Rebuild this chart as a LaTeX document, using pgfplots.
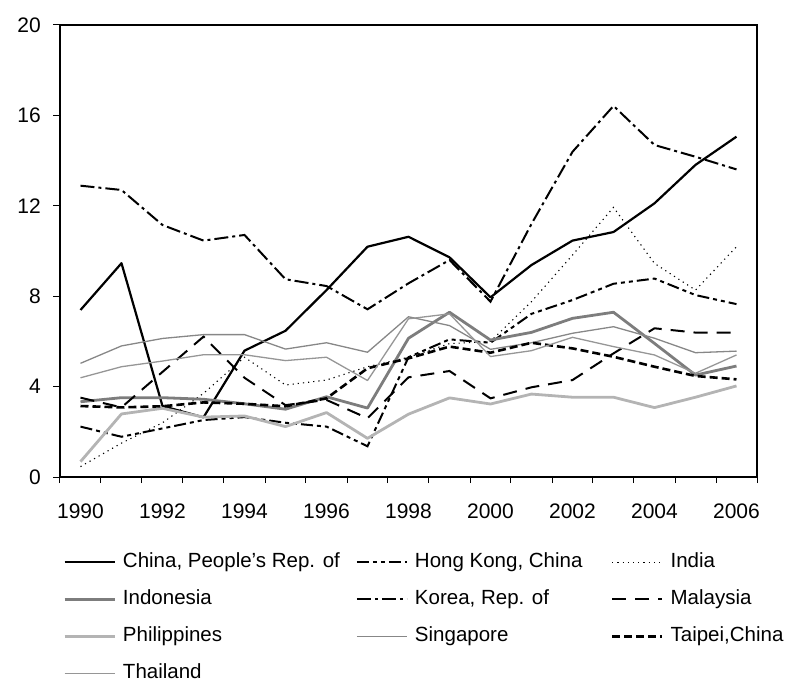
\documentclass[border=0pt]{standalone}
\usepackage{fontspec}
\setmainfont{Liberation Sans}
\usepackage{pgfplots}
\pgfplotsset{compat=1.18}
\definecolor{indo}{RGB}{125,125,125}
\definecolor{phil}{RGB}{180,180,180}
\definecolor{sing}{RGB}{135,135,135}
\definecolor{thai}{RGB}{150,150,150}
\begin{document}
\begin{tikzpicture}
\useasboundingbox (-60pt,-206pt) rectangle (730pt,477pt);
\begin{axis}[
  at={(0pt,0pt)}, anchor=south west,
  width=697pt, height=452pt, scale only axis,
  xmin=1989.5, xmax=2006.5, ymin=0, ymax=20,
  xtick={1990,1992,...,2006},
  minor xtick={1989.5,1990.5,...,2006.5},
  ytick={0,4,...,20},
  xtick pos=bottom, ytick pos=left,
  tick align=outside,
  major tick length=7pt, minor tick length=6pt,
  major x tick style={draw=none},
  minor tick style={black, line width=1pt},
  ytick style={black, line width=1pt},
  axis line style={line width=1.2pt},
  /pgf/number format/assume math mode=true,
  /pgf/number format/1000 sep={},
  tick label style={font=\fontsize{21}{24}\selectfont, inner sep=0pt},
  xticklabel style={yshift=-20pt},
  yticklabel style={xshift=-12pt},
  legend columns=3,
  legend cell align=left,
  legend image code/.code={\draw[#1] (0pt,0pt) -- (50pt,0pt);},
  legend style={at={(0.0043,-0.166)}, anchor=north west, draw=none,
    inner sep=0pt, font=\fontsize{20.5}{24}\selectfont, row sep=17pt,
    nodes={inner sep=0pt, text height=15pt, text depth=5pt},
    /tikz/every odd column/.append style={column sep=7pt}},
]
% China
\addplot[black, line width=2.2pt, line join=round] coordinates {
(1990,7.39)(1991,9.46)(1992,3.14)(1993,2.64)(1994,5.59)(1995,6.47)(1996,8.27)(1997,10.19)(1998,10.63)(1999,9.72)(2000,7.95)(2001,9.38)(2002,10.46)(2003,10.84)(2004,12.11)(2005,13.81)(2006,15.06)};
\addlegendentry{\makebox[233pt][l]{China, People's Rep. of}}
% Hong Kong
\addplot[black, line width=2pt, dash pattern=on 12pt off 4pt on 4pt off 4pt on 4pt off 4pt] coordinates {
(1990,2.23)(1991,1.78)(1992,2.15)(1993,2.52)(1994,2.65)(1995,2.40)(1996,2.23)(1997,1.36)(1998,5.30)(1999,6.09)(2000,5.94)(2001,7.22)(2002,7.83)(2003,8.55)(2004,8.78)(2005,8.05)(2006,7.65)};
\addlegendentry{\makebox[196pt][l]{Hong Kong, China}}
% India
\addplot[black, line width=1.1pt, dash pattern=on 1.2pt off 4pt] coordinates {
(1990,0.46)(1991,1.5)(1992,2.4)(1993,3.7)(1994,5.3)(1995,4.07)(1996,4.29)(1997,4.88)(1998,5.3)(1999,5.9)(2000,6.0)(2001,7.76)(2002,9.82)(2003,11.93)(2004,9.45)(2005,8.27)(2006,10.19)};
\addlegendentry{India}
% Indonesia
\addplot[indo, line width=2.8pt, line join=round] coordinates {
(1990,3.33)(1991,3.51)(1992,3.51)(1993,3.44)(1994,3.24)(1995,3.00)(1996,3.55)(1997,3.05)(1998,6.14)(1999,7.29)(2000,6.06)(2001,6.40)(2002,7.02)(2003,7.29)(2004,5.91)(2005,4.51)(2006,4.91)};
\addlegendentry{\makebox[233pt][l]{Indonesia}}
% Korea
\addplot[black, line width=2pt, dash pattern=on 14pt off 4pt on 3pt off 4pt] coordinates {
(1990,12.89)(1991,12.70)(1992,11.15)(1993,10.46)(1994,10.71)(1995,8.75)(1996,8.45)(1997,7.42)(1998,8.57)(1999,9.60)(2000,7.76)(2001,11.2)(2002,14.39)(2003,16.42)(2004,14.69)(2005,14.17)(2006,13.61)};
\addlegendentry{\makebox[196pt][l]{Korea, Rep. of}}
% Malaysia
\addplot[black, line width=2pt, dash pattern=on 14pt off 9pt] coordinates {
(1990,3.51)(1991,3.08)(1992,4.65)(1993,6.21)(1994,4.39)(1995,3.18)(1996,3.41)(1997,2.60)(1998,4.41)(1999,4.69)(2000,3.48)(2001,3.97)(2002,4.29)(2003,5.47)(2004,6.58)(2005,6.39)(2006,6.39)};
\addlegendentry{Malaysia}
% Philippines
\addplot[phil, line width=2.8pt, line join=round] coordinates {
(1990,0.68)(1991,2.79)(1992,3.04)(1993,2.65)(1994,2.70)(1995,2.23)(1996,2.85)(1997,1.71)(1998,2.78)(1999,3.50)(2000,3.23)(2001,3.67)(2002,3.53)(2003,3.53)(2004,3.07)(2005,3.53)(2006,4.03)};
\addlegendentry{\makebox[233pt][l]{Philippines}}
% Singapore
\addplot[sing, line width=1.3pt, line join=round] coordinates {
(1990,5.03)(1991,5.80)(1992,6.13)(1993,6.30)(1994,6.30)(1995,5.66)(1996,5.94)(1997,5.52)(1998,7.09)(1999,6.70)(2000,5.65)(2001,5.94)(2002,6.36)(2003,6.65)(2004,6.14)(2005,5.50)(2006,5.57)};
\addlegendentry{\makebox[196pt][l]{Singapore}}
% Taipei
\addplot[black, line width=2.6pt, dash pattern=on 8pt off 4pt] coordinates {
(1990,3.14)(1991,3.08)(1992,3.13)(1993,3.30)(1994,3.24)(1995,3.13)(1996,3.48)(1997,4.81)(1998,5.25)(1999,5.77)(2000,5.50)(2001,5.94)(2002,5.69)(2003,5.32)(2004,4.88)(2005,4.47)(2006,4.32)};
\addlegendentry{Taipei,China}
% Thailand
\addplot[thai, line width=1.3pt, line join=round] coordinates {
(1990,4.39)(1991,4.88)(1992,5.13)(1993,5.41)(1994,5.41)(1995,5.15)(1996,5.30)(1997,4.27)(1998,7.00)(1999,7.22)(2000,5.33)(2001,5.59)(2002,6.18)(2003,5.77)(2004,5.40)(2005,4.59)(2006,5.40)};
\addlegendentry{\makebox[233pt][l]{Thailand}}
\end{axis}
\end{tikzpicture}
\end{document}
